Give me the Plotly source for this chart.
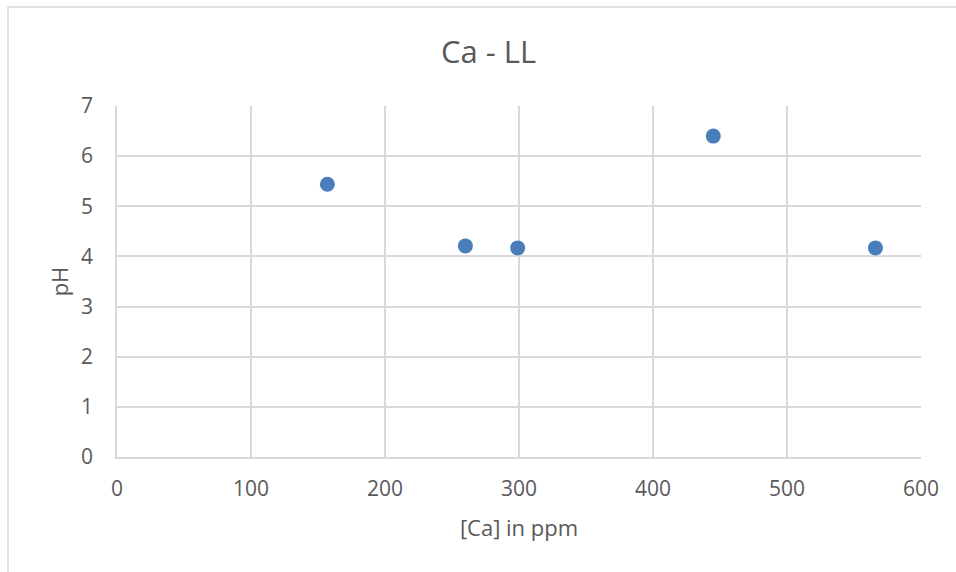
import plotly.graph_objects as go

ca_ppm = [157, 260, 299, 445, 566]
ph = [5.44, 4.21, 4.17, 6.40, 4.17]

x_ticks = [0, 100, 200, 300, 400, 500, 600]
y_ticks = [0, 1, 2, 3, 4, 5, 6, 7]

W, H = 956, 572
L, R, T, B = 117, 35, 106, 115
pw, ph_ = W - L - R, H - T - B

def px_x(p):
    return (p - L) / pw

def px_y(p):
    return (H - B - p) / ph_

font = "Open Sans, Liberation Sans, sans-serif"
grey = "#595959"
grid = "#d9d9d9"

fig = go.Figure(
    go.Scatter(
        x=ca_ppm, y=ph, mode="markers",
        marker=dict(size=15, color="#4a7ebb", line=dict(width=0)),
        showlegend=False,
    )
)

fig.update_layout(
    width=W, height=H,
    margin=dict(l=L, r=R, t=T, b=B),
    paper_bgcolor="white", plot_bgcolor="white",
    font=dict(family=font, color=grey, size=20),
    title=dict(text="Ca - LL", x=0.511, xanchor="center", y=1 - 52 / H, yanchor="middle",
               font=dict(size=31, color=grey, family=font)),
    xaxis=dict(
        range=[0, 600], tickvals=x_ticks, ticktext=[str(v) for v in x_ticks],
        showgrid=True, gridcolor=grid, gridwidth=1.5,
        showline=True, linecolor=grid, linewidth=1.5,
        zeroline=False, ticks="", ticklabelstandoff=12,
        title=dict(text="[Ca] in ppm", standoff=20, font=dict(size=22, color=grey)),
        tickfont=dict(size=21, color=grey),
    ),
    yaxis=dict(
        range=[0, 7], tickvals=y_ticks, ticktext=[str(v) for v in y_ticks],
        showgrid=True, gridcolor=grid, gridwidth=1.5,
        showline=True, linecolor=grid, linewidth=1.5,
        zeroline=False, ticks="", ticklabelstandoff=18,
        title=dict(text="pH", standoff=6, font=dict(size=22, color=grey)),
        tickfont=dict(size=21, color=grey),
    ),
    shapes=[
        dict(type="rect", xref="paper", yref="paper",
             x0=px_x(8), x1=px_x(W + 10), y0=px_y(H + 10), y1=px_y(7),
             line=dict(color=grid, width=1.5), fillcolor="rgba(0,0,0,0)", layer="below"),
    ],
)

fig.write_html("out.html")
